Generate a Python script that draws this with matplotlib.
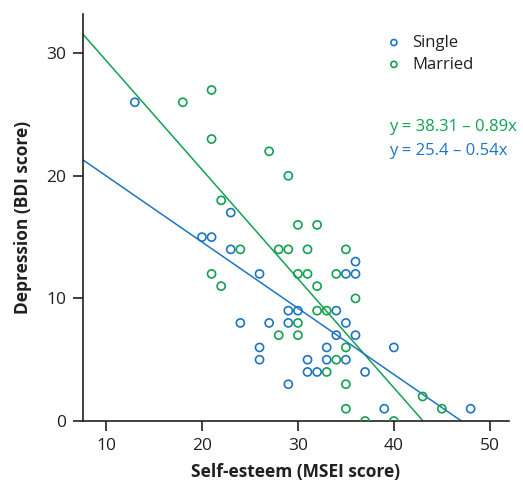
import matplotlib
matplotlib.use('Agg')
import matplotlib.pyplot as plt
import numpy as np

plt.rcParams['font.family'] = ['Open Sans', 'DejaVu Sans']

# Single (blue)
single_x = [13, 20, 21, 23, 23, 26, 24, 27, 29, 30, 29, 26, 26, 29,
            31, 31, 32, 33, 33, 34, 34, 35, 35, 35, 36, 36, 36, 37, 39, 40, 48]
single_y = [26, 15, 15, 17, 14, 12, 8, 8, 9, 9, 8, 6, 5, 3,
            5, 4, 4, 6, 5, 9, 7, 12, 8, 5, 13, 12, 7, 4, 1, 6, 1]

# Married (green)
married_x = [18, 21, 21, 27, 29, 22, 24, 21, 22, 28, 29, 30, 32, 31, 35,
             30, 31, 34, 32, 36, 32, 33, 30, 28, 30, 35, 34, 33, 35, 43,
             35, 45, 37, 40]
married_y = [26, 27, 23, 22, 20, 18, 14, 12, 11, 14, 14, 16, 16, 14, 14,
             12, 12, 12, 11, 10, 9, 9, 8, 7, 7, 6, 5, 4, 3, 2,
             1, 1, 0, 0]

# regression lines: intercept, slope
married_fit = (38.31, -0.89)
single_fit = (25.4, -0.54)

blue = '#1b75c4'
green = '#12a150'
dark = '#231f20'

fig = plt.figure(figsize=(5.23, 4.92), dpi=100)
ax = fig.add_axes([83/523, 71/492, 426/523, 407/492])

xmin, xmax = 7.6, 52
ax.set_xlim(xmin, xmax)
ax.set_ylim(0, 33.2)

ax.scatter(single_x, single_y, s=34, facecolors='none', edgecolors=blue,
           linewidths=1.2, label='Single', zorder=3)
ax.scatter(married_x, married_y, s=34, facecolors='none', edgecolors=green,
           linewidths=1.2, label='Married', zorder=3)

for (b, m), c in [(married_fit, green), (single_fit, blue)]:
    xs = np.array([xmin, -b / m])
    ax.plot(xs, b + m * xs, color=c, lw=1.1, zorder=2)

ax.spines['top'].set_visible(False)
ax.spines['right'].set_visible(False)
for s in ['left', 'bottom']:
    ax.spines[s].set_color(dark)
    ax.spines[s].set_linewidth(1.2)

ax.set_xticks([10, 20, 30, 40, 50])
ax.set_yticks([0, 10, 20, 30])
ax.tick_params(direction='out', length=7, width=1.2, color=dark,
               labelcolor=dark, labelsize=12.5, pad=5)

ax.set_xlabel('Self-esteem (MSEI score)', fontsize=12.5, fontweight='bold',
              color=dark, labelpad=7)
ax.set_ylabel('Depression (BDI score)', fontsize=12.5, fontweight='bold',
              color=dark, labelpad=10)

leg = ax.legend(loc='upper left', bbox_to_anchor=(0.675, 0.965), frameon=False,
                fontsize=12, handletextpad=0.1, labelspacing=0.35,
                markerscale=0.75, borderaxespad=0)
for t in leg.get_texts():
    t.set_color(dark)

ax.text(0.718, 0.722, 'y = 38.31 \u2013 0.89x', transform=ax.transAxes,
        color=green, fontsize=12, va='center')
ax.text(0.718, 0.663, 'y = 25.4 \u2013 0.54x', transform=ax.transAxes,
        color=blue, fontsize=12, va='center')

fig.savefig('out.png', dpi=100)
